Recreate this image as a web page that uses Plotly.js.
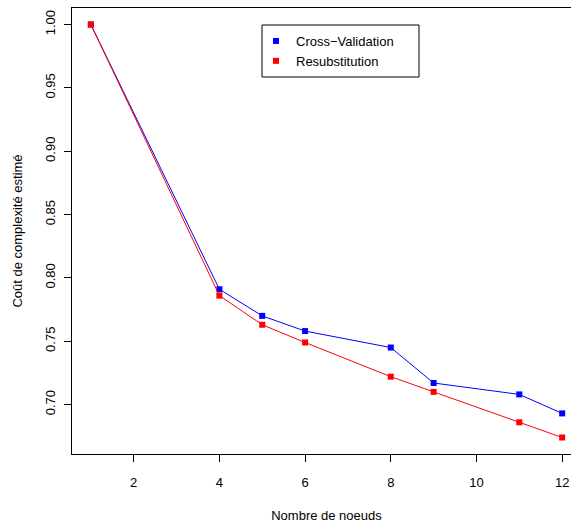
<!DOCTYPE html>
<html>
<head>
<meta charset="utf-8">
<script src="https://cdn.plot.ly/plotly-3.0.1.min.js"></script>
<style>
html,body{margin:0;padding:0;overflow:hidden;background:#fff;width:571px;height:523px;}
#chart{width:582px;height:523px;}
</style>
</head>
<body>
<div id="chart"></div>
<script>
const nodes = [1, 4, 5, 6, 8, 9, 11, 12];
const crossValidation = [1.000, 0.791, 0.770, 0.758, 0.745, 0.717, 0.708, 0.693];
const resubstitution = [1.000, 0.786, 0.763, 0.749, 0.722, 0.710, 0.686, 0.674];
const xTicks = [2, 4, 6, 8, 10, 12];
const yTicks = [0.70, 0.75, 0.80, 0.85, 0.90, 0.95, 1.00];
const seriesNames = ['Cross\u2212Validation', 'Resubstitution'];
const colors = ['#0000FF', '#FF0000'];

const FONT = 'Liberation Sans, Arial, Helvetica, sans-serif';
const series = [crossValidation, resubstitution];
const traces = [];
series.forEach((ys, i) => {
  traces.push({x: nodes, y: ys, mode: 'lines', line: {color: colors[i], width: 1},
    showlegend: false, hoverinfo: 'skip'});
  traces.push({x: nodes, y: ys, mode: 'markers', name: seriesNames[i],
    marker: {color: colors[i], symbol: 'square', size: 6}});
});

const allY = crossValidation.concat(resubstitution);
const ymin = Math.min(...allY), ymax = Math.max(...allY);
const xmin = Math.min(...nodes), xmax = Math.max(...nodes);
const yext = (ymax - ymin) * 0.04, xext = (xmax - xmin) * 0.04;

// plot area in pixels: left 72, width 509, top 8, height 446
const px = v => (v - 72) / 509;
const py = v => (454 - v) / 446;

const layout = {
  width: 582, height: 523,
  margin: {l: 72, r: 1, t: 8, b: 69},
  paper_bgcolor: '#fff', plot_bgcolor: '#fff',
  font: {family: FONT, size: 13, color: '#000'},
  showlegend: true,
  legend: {x: px(256), y: py(26), xanchor: 'left', yanchor: 'top',
    borderwidth: 0, bgcolor: 'rgba(0,0,0,0)', tracegroupgap: 0,
    font: {family: FONT, size: 13, color: '#000'}, itemwidth: 30},
  shapes: [{type: 'rect', xref: 'paper', yref: 'paper', x0: px(262), x1: px(419),
    y0: py(77), y1: py(25), line: {color: '#000', width: 1}, fillcolor: '#fff', layer: 'above'}],
  xaxis: {range: [xmin - xext, xmax + xext], tickvals: xTicks, ticks: 'outside', ticklen: 7,
    tickcolor: '#000', showgrid: false, zeroline: false, showline: true, linecolor: '#000',
    linewidth: 1, mirror: true, ticklabelstandoff: 9,
    title: {text: 'Nombre de noeuds', font: {family: FONT, size: 13}, standoff: 26}},
  yaxis: {range: [ymin - yext, ymax + yext], tickvals: yTicks, tickformat: '.2f', ticks: 'outside',
    ticklen: 7, tickcolor: '#000', tickangle: -90, showgrid: false, zeroline: false,
    showline: true, linecolor: '#000', linewidth: 1, mirror: true, ticklabelstandoff: 4,
    title: {text: 'Coût de complexité estimé', font: {family: FONT, size: 13}, standoff: 17}}
};
Plotly.newPlot('chart', traces, layout, {staticPlot: true, displayModeBar: false});
</script>
</body>
</html>
